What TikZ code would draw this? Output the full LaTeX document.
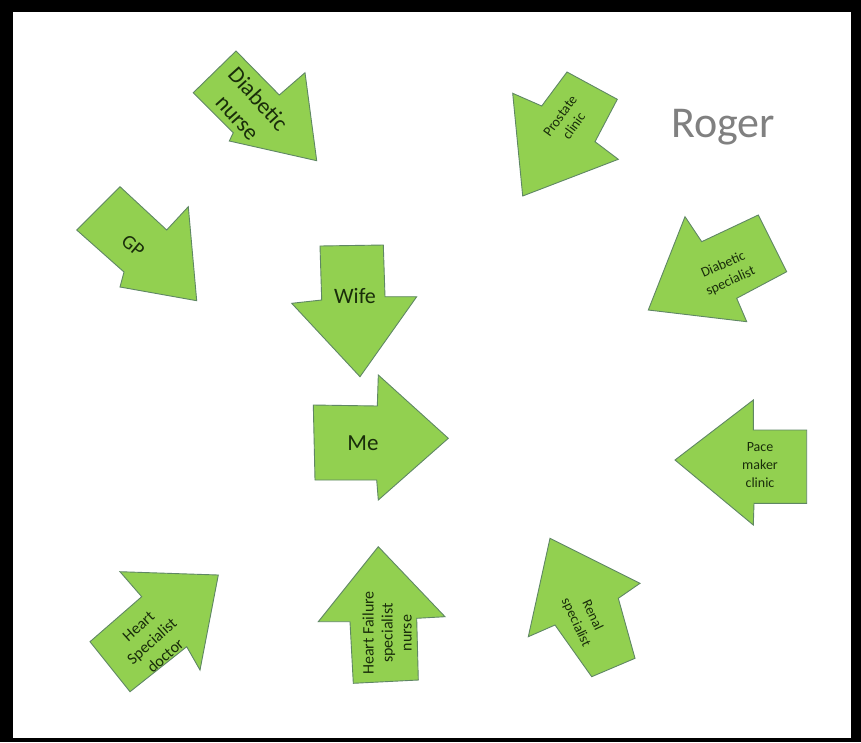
\documentclass[tikz,border=0pt]{standalone}
\usepackage{fontspec}
\setmainfont{Carlito}
\definecolor{arrowfill}{RGB}{146,208,80}
\definecolor{arrowline}{RGB}{95,135,100}
\definecolor{txtcol}{RGB}{25,45,10}
\definecolor{rogercol}{RGB}{128,128,128}
\tikzset{
  blockarrow/.style={fill=arrowfill, draw=arrowline, line width=0.9pt, line join=miter},
  lbl/.style={text=txtcol, align=center, inner sep=0pt},
}
\begin{document}
\begin{tikzpicture}[x=1pt,y=-1pt]
\useasboundingbox (0,0) rectangle (861,742);
\fill[black] (0,0) rectangle (861,742);
\fill[white] (13,12) rectangle (851,738);

% Diabetic nurse
\draw[blockarrow] (236,51) -- (279.3,95) -- (305,72.7) -- (316.7,160.7) -- (229.3,141) -- (233.3,132.7) -- (193.3,92.7) -- cycle;
\node[lbl, rotate=-48, font=\fontsize{23}{28}\selectfont] (dn) at (248,108) {Diabetic\\nurse};

% Prostate clinic
\draw[blockarrow] (567,72) -- (617.3,99.3) -- (595,141.7) -- (618.3,159.3) -- (522.7,196) -- (512.7,93.3) -- (541.7,106) -- cycle;
\node[lbl, rotate=54, font=\fontsize{14}{17}\selectfont] (pc) at (567,121) {Prostate\\clinic};

% GP
\draw[blockarrow] (120,186.7) -- (166.7,230) -- (188.3,206.7) -- (196.7,300.7) -- (120,287) -- (124,272) -- (76.7,230) -- cycle;
\node[lbl, rotate=-40, font=\fontsize{20}{24}\selectfont] (gp) at (133,246) {GP};

% Diabetic specialist
\draw[blockarrow] (758.3,215) -- (786.7,271.7) -- (736.7,298.3) -- (746.7,321.7) -- (648.3,310) -- (685,216.7) -- (701.7,241.7) -- cycle;
\node[lbl, rotate=24, font=\fontsize{14}{18}\selectfont] (ds) at (727,273) {Diabetic\\specialist};

% Wife
\draw[blockarrow] (320,246) -- (383.3,245) -- (385,296.7) -- (416.7,296.7) -- (360,376.7) -- (291.7,303.3) -- (321.7,300) -- cycle;
\node[lbl, font=\fontsize{22}{26}\selectfont] (wife) at (355,296) {Wife};

% Me
\draw[blockarrow] (313.3,405) -- (377.3,406) -- (378.3,375) -- (448.3,438.3) -- (378.3,500) -- (376.7,480) -- (315,480) -- cycle;
\node[lbl, font=\fontsize{23}{27}\selectfont] (me) at (363,443) {Me};

% Pace maker clinic
\draw[blockarrow] (675,460) -- (753.3,400) -- (753.3,430) -- (806.7,430) -- (806.7,503.3) -- (754,503.3) -- (753.3,525) -- cycle;
\node[lbl, font=\fontsize{14}{18}\selectfont] (pm) at (760,465) {Pace\\maker\\clinic};

% Heart Specialist doctor
\draw[blockarrow] (120,571.7) -- (218.3,575) -- (200,670) -- (186.7,646.7) -- (130,691.7) -- (90,641.7) -- (141.7,596.7) -- cycle;
\node[lbl, rotate=42, font=\fontsize{16}{20}\selectfont] (hsd) at (152,641) {Heart\\Specialist\\doctor};

% Heart Failure specialist nurse
\draw[blockarrow] (378.3,546.7) -- (445,616.7) -- (416.7,618.3) -- (418.3,680) -- (353.3,683.3) -- (350,621.7) -- (318.3,621.7) -- cycle;
\node[lbl, rotate=90, font=\fontsize{16}{19}\selectfont] (hfn) at (387,633) {Heart Failure\\specialist\\nurse};

% Renal specialist
\draw[blockarrow] (550,538.3) -- (640,583.3) -- (618.3,598.3) -- (635,658.3) -- (591.7,676.7) -- (555,625) -- (528.3,636.7) -- cycle;
\node[lbl, rotate=-65, font=\fontsize{14}{18}\selectfont] (rs) at (584,619) {Renal\\specialist};

% Roger
\node[text=rogercol, font=\fontsize{44}{50}\selectfont, anchor=base, inner sep=0pt] (roger) at (723,137) {Roger};
\end{tikzpicture}
\end{document}
